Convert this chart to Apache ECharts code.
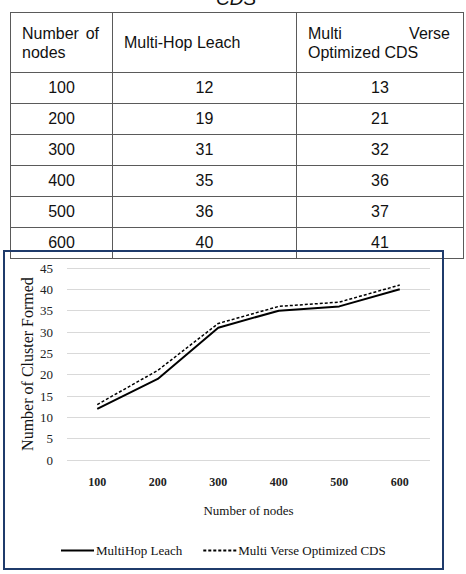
<!DOCTYPE html>
<html>
<head>
<meta charset="utf-8">
<script src="https://cdn.jsdelivr.net/npm/echarts@6/dist/echarts.min.js"></script>
<style>
  html, body { margin: 0; padding: 0; width: 466px; height: 574px; overflow: hidden; background: #fff; }
  #caption {
    position: absolute; left: 0; width: 472px; top: -9px; text-align: center;
    font: italic 19px "Liberation Sans", Arial, sans-serif; line-height: 16px; color: #111;
  }
  #tbl {
    position: absolute; left: 10px; top: 12px; width: 453px;
    border-collapse: collapse; table-layout: fixed;
    font: 16px "Liberation Sans", Arial, sans-serif; color: #111;
  }
  #tbl td { border: 1px solid #5a5a5a; padding: 0; text-align: center; height: 30px; }
  #tbl tr.head td { height: 59px; text-align: justify; padding: 0 13px 0 11px; line-height: 19px; }
  #map { position: absolute; left: 0; top: 0; width: 466px; height: 574px; }
</style>
</head>
<body>
<div id="caption">CDS</div>
<table id="tbl">
  <colgroup><col style="width:102px"><col style="width:184px"><col style="width:167px"></colgroup>
  <tbody id="tbody"></tbody>
</table>
<div id="map"></div>
<script>
// 数据
var nodes = ["100", "200", "300", "400", "500", "600"];
var leach = [12, 19, 31, 35, 36, 40];
var mvoCds = [13, 21, 32, 36, 37, 41];
var headers = ["Number of nodes", "Multi-Hop Leach", "Multi Verse Optimized CDS"];
var yTicks = [0, 45, 5]; // min, max, interval

// 表格
var html = '<tr class="head">';
headers.forEach(function (h) { html += '<td>' + h + '</td>'; });
html += '</tr>';
for (var i = 0; i < nodes.length; i++) {
  html += '<tr><td>' + nodes[i] + '</td><td>' + leach[i] + '</td><td>' + mvoCds[i] + '</td></tr>';
}
document.getElementById("tbody").innerHTML = html;

var serif = '"Liberation Serif", "Times New Roman", serif';
var myChart = echarts.init(document.getElementById("map"), null, { renderer: "svg" });

var option = {
  backgroundColor: "transparent",
  animation: false,
  graphic: [
    {
      type: "rect",
      shape: { x: 4, y: 251, width: 439, height: 318 },
      style: { fill: "none", stroke: "#1f3b6b", lineWidth: 2 },
    },
  ],
  grid: { left: 67, right: 36, top: 268, bottom: 114 },
  legend: {
    left: 60,
    top: 544,
    padding: 0,
    itemWidth: 33,
    itemHeight: 14,
    itemGap: 20,
    itemStyle: { opacity: 0 }, // 图例只显示线
    textStyle: { fontFamily: serif, fontSize: 13, color: "#111", padding: [0, 0, 0, -3] },
    data: ["MultiHop Leach", "Multi Verse Optimized CDS"],
  },
  xAxis: {
    type: "category",
    data: nodes,
    boundaryGap: true,
    name: "Number of nodes",
    nameLocation: "middle",
    nameGap: 44,
    nameTextStyle: { fontFamily: serif, fontSize: 13, color: "#111" },
    axisLine: { show: false },
    axisTick: { show: false },
    axisLabel: { fontFamily: serif, fontSize: 12, fontWeight: "bold", color: "#222", margin: 16 },
  },
  yAxis: {
    type: "value",
    min: yTicks[0],
    max: yTicks[1],
    interval: yTicks[2],
    name: "Number of Cluster Formed",
    nameLocation: "middle",
    nameGap: 32,
    nameMoveOverlap: false,
    nameTextStyle: { fontFamily: serif, fontSize: 16, color: "#111" },
    axisLine: { show: false },
    axisTick: { show: false },
    axisLabel: { fontFamily: serif, fontSize: 13, color: "#222", margin: 14 },
    splitLine: { lineStyle: { color: "#d9d9d9", width: 1 } },
  },
  series: [
    {
      name: "MultiHop Leach",
      type: "line",
      data: leach,
      symbol: "none",
      lineStyle: { color: "#000", width: 2, type: "solid" },
      itemStyle: { color: "#000" },
    },
    {
      name: "Multi Verse Optimized CDS",
      type: "line",
      data: mvoCds,
      symbol: "none",
      lineStyle: { color: "#000", width: 1.5, type: [3, 2] },
      itemStyle: { color: "#000" },
    },
  ],
};

myChart.setOption(option);
</script>
</body>
</html>
